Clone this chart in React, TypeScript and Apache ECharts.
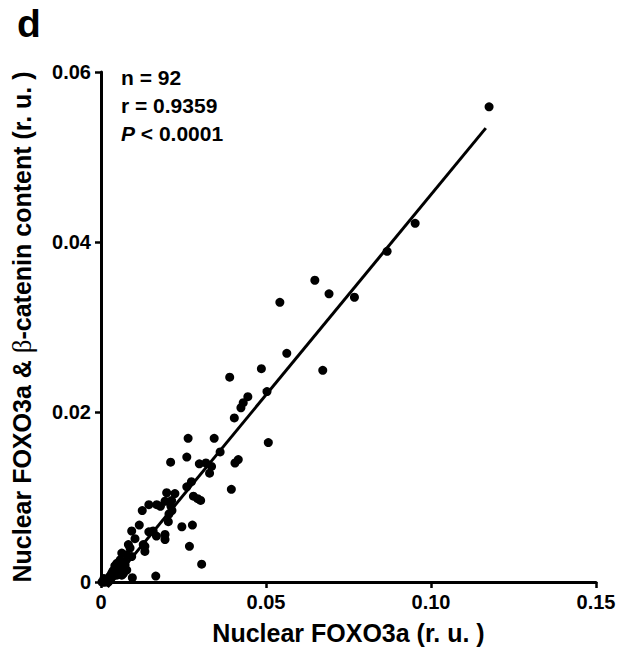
import React, { useEffect, useRef } from "react";
import * as echarts from "echarts";

// Scatter data: nuclear FOXO3a (x) vs nuclear FOXO3a & beta-catenin content (y)
const xValues = [
  0.1176, 0.0952, 0.0867, 0.0648, 0.0691, 0.0768, 0.0542, 0.0563, 0.0486, 0.0672,
  0.0390, 0.0503, 0.0445, 0.0431, 0.0424, 0.0404, 0.0343, 0.0507, 0.0264, 0.0260,
  0.0361, 0.0211, 0.0298, 0.0318, 0.0335, 0.0329, 0.0416, 0.0406, 0.0395, 0.0260,
  0.0274, 0.0199, 0.0224, 0.0214, 0.0280, 0.0293, 0.0302, 0.0194, 0.0169, 0.0180,
  0.0145, 0.0212, 0.0215, 0.0206, 0.0125, 0.0204, 0.0116, 0.0245, 0.0277, 0.0093,
  0.0145, 0.0158, 0.0168, 0.0194, 0.0194, 0.0103, 0.0083, 0.0088, 0.0133, 0.0133,
  0.0268, 0.0063, 0.0078, 0.0093, 0.0058, 0.0073, 0.0042, 0.0055, 0.0068, 0.0078,
  0.0305, 0.0032, 0.0048, 0.0063, 0.0095, 0.0166, 0.0017, 0.0027, 0.0012, 0.0022,
  0.0003, 0.0036, 0.0048, 0.0009, 0.0033, 0.0052, 0.0009, 0.0018, 0.0027, 0.0128,
  0.0068, 0.0073,
];
const yValues = [
  0.0559, 0.0422, 0.0389, 0.0355, 0.0339, 0.0335, 0.0329, 0.0269, 0.0251, 0.0249,
  0.0241, 0.0224, 0.0218, 0.0211, 0.0205, 0.0193, 0.0169, 0.0164, 0.0169, 0.0147,
  0.0153, 0.0141, 0.0139, 0.0140, 0.0136, 0.0128, 0.0144, 0.0140, 0.0109, 0.0112,
  0.0118, 0.0105, 0.0104, 0.0096, 0.0101, 0.0098, 0.0096, 0.0095, 0.0091, 0.0089,
  0.0091, 0.0089, 0.0084, 0.0080, 0.0084, 0.0071, 0.0067, 0.0065, 0.0067, 0.0060,
  0.0059, 0.0060, 0.0054, 0.0056, 0.0050, 0.0051, 0.0044, 0.0040, 0.0042, 0.0036,
  0.0042, 0.0034, 0.0032, 0.0030, 0.0026, 0.0024, 0.0019, 0.0016, 0.0017, 0.0014,
  0.0021, 0.0010, 0.0008, 0.0008, 0.0005, 0.0007, 0.0002, 0.0002, 0.0000, 0.0000,
  0.0000, 0.0013, 0.0022, 0.0004, 0.0006, 0.0012, 0.0000, 0.0001, 0.0007, 0.0044,
  0.0010, 0.0020,
];

// Regression line end points
const fitX = [0.002, 0.1166];
const fitY = [-0.0006, 0.0534];

const xTicks = [0, 0.05, 0.1, 0.15];
const yTicks = [0, 0.02, 0.04, 0.06];

const statLines = ["n = 92", "r = 0.9359", "< 0.0001"];
const panelLabel = "d";
const xAxisTitle = "Nuclear FOXO3a (r. u. )";
const yAxisTitle = "Nuclear FOXO3a & {b|\u03B2}-catenin content (r. u. )";

const FONT = "'Liberation Sans', Arial, Helvetica, sans-serif";

export default function App() {
  const ref = useRef<HTMLDivElement>(null);

  useEffect(() => {
    document.body.style.margin = "0";
    if (!ref.current) return;
    const chart = echarts.init(ref.current, null, { renderer: "svg" });

    const points = xValues.map((x, i) => [x, yValues[i]]);
    const fit = fitX.map((x, i) => [x, fitY[i]]);

    const axisCommon = {
      type: "value" as const,
      splitLine: { show: false },
      axisLine: { show: true, lineStyle: { color: "#000", width: 3 } },
      axisTick: { show: true, inside: false, length: 6, lineStyle: { color: "#000", width: 2.5 } },
    };

    chart.setOption({
      animation: false,
      backgroundColor: "#fff",
      grid: { left: 101, right: 30, top: 72, bottom: 66, containLabel: false, outerBoundsMode: "none" },
      xAxis: {
        ...axisCommon,
        min: xTicks[0],
        max: xTicks[xTicks.length - 1],
        interval: xTicks[1] - xTicks[0],
        name: xAxisTitle,
        nameLocation: "middle",
        nameGap: 38,
        nameTextStyle: { fontFamily: FONT, fontWeight: "bold", fontSize: 25, color: "#000" },
        axisLabel: {
          margin: 10,
          fontFamily: FONT,
          fontWeight: "bold",
          fontSize: 20,
          color: "#000",
          formatter: (v: number) => (v === 0 ? "0" : v.toFixed(2)),
        },
      },
      yAxis: {
        ...axisCommon,
        min: yTicks[0],
        max: yTicks[yTicks.length - 1],
        interval: yTicks[1] - yTicks[0],
        name: yAxisTitle,
        nameLocation: "middle",
        nameRotate: 90,
        nameGap: 66,
        nameTextStyle: {
          fontFamily: FONT,
          fontWeight: "bold",
          fontSize: 25,
          color: "#000",
          rich: {
            b: { fontFamily: "'Liberation Serif', 'DejaVu Serif', serif", fontWeight: "normal", fontSize: 27, color: "#000" },
          },
        },
        axisLabel: {
          margin: 10,
          fontFamily: FONT,
          fontWeight: "bold",
          fontSize: 20,
          color: "#000",
          formatter: (v: number) => (v === 0 ? "0" : v.toFixed(2)),
        },
      },
      graphic: [
        {
          type: "text",
          left: 17,
          top: 4,
          style: { text: panelLabel, font: `bold 39px ${FONT}`, fill: "#000" },
        },
        {
          type: "text",
          x: 121,
          y: 77,
          style: { text: statLines[0], font: `bold 21px ${FONT}`, fill: "#000", verticalAlign: "middle" },
        },
        {
          type: "text",
          x: 121,
          y: 105,
          style: { text: statLines[1], font: `bold 21px ${FONT}`, fill: "#000", verticalAlign: "middle" },
        },
        {
          type: "text",
          x: 121,
          y: 133,
          style: {
            text: "{i|P} {n|" + statLines[2] + "}",
            font: `bold 21px ${FONT}`,
            fill: "#000",
            verticalAlign: "middle",
            rich: {
              i: { fontFamily: FONT, fontWeight: "bold", fontStyle: "italic", fontSize: 21, fill: "#000" },
              n: { fontFamily: FONT, fontWeight: "bold", fontSize: 21, fill: "#000" },
            },
          },
        },
      ],
      series: [
        {
          type: "scatter",
          data: points,
          symbol: "circle",
          symbolSize: 9,
          clip: false,
          itemStyle: { color: "#000", opacity: 1 },
          z: 3,
        },
        {
          type: "line",
          data: fit,
          showSymbol: false,
          symbol: "none",
          clip: false,
          lineStyle: { color: "#000", width: 3 },
          z: 2,
        },
      ],
    });

    return () => chart.dispose();
  }, []);

  return <div ref={ref} style={{ width: 626, height: 648 }} />;
}
